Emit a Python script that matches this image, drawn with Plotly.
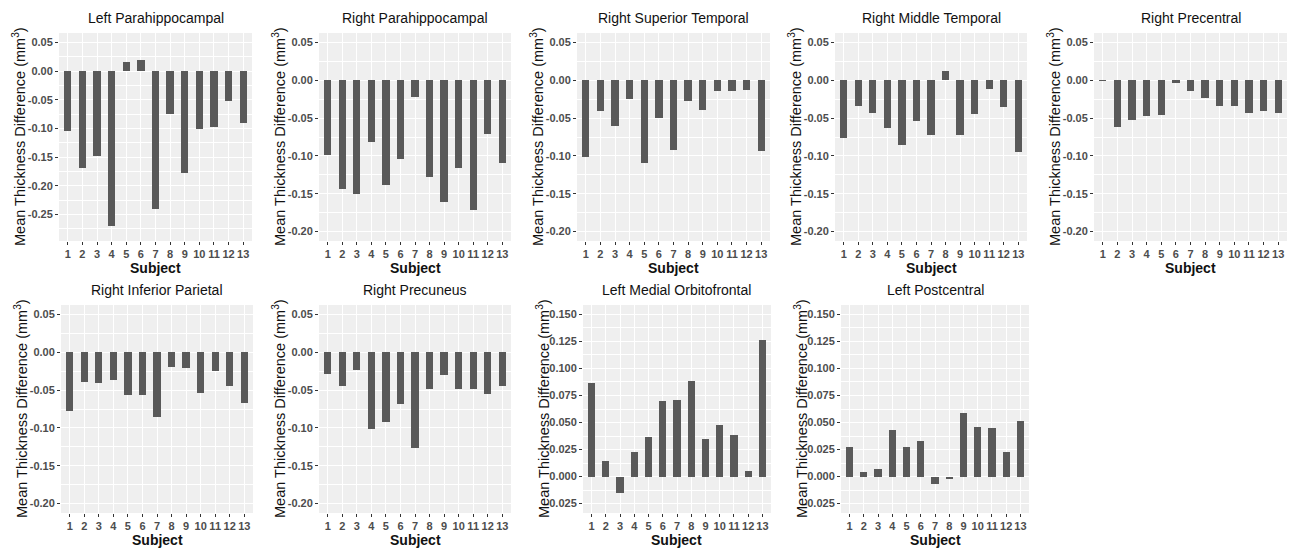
import math
import plotly.graph_objects as go

subjects = [str(i) for i in range(1, 14)]

regions = [
    "Left Parahippocampal", "Right Parahippocampal", "Right Superior Temporal",
    "Right Middle Temporal", "Right Precentral", "Right Inferior Parietal",
    "Right Precuneus", "Left Medial Orbitofrontal", "Left Postcentral",
]

left_parahippocampal = [-0.104, -0.169, -0.148, -0.270, 0.016, 0.020, -0.241, -0.075, -0.177, -0.101, -0.097, -0.052, -0.090]
right_parahippocampal = [-0.099, -0.144, -0.150, -0.082, -0.138, -0.104, -0.022, -0.128, -0.161, -0.116, -0.171, -0.071, -0.110]
right_superior_temporal = [-0.102, -0.041, -0.060, -0.025, -0.109, -0.050, -0.092, -0.027, -0.039, -0.014, -0.014, -0.013, -0.094]
right_middle_temporal = [-0.076, -0.034, -0.043, -0.063, -0.085, -0.054, -0.073, 0.012, -0.072, -0.045, -0.011, -0.035, -0.095]
right_precentral = [-0.0005, -0.062, -0.052, -0.047, -0.046, -0.003, -0.014, -0.024, -0.034, -0.034, -0.043, -0.040, -0.043]
right_inferior_parietal = [-0.078, -0.039, -0.041, -0.036, -0.056, -0.056, -0.085, -0.020, -0.021, -0.054, -0.025, -0.044, -0.067]
right_precuneus = [-0.029, -0.045, -0.024, -0.101, -0.092, -0.069, -0.127, -0.049, -0.030, -0.049, -0.049, -0.055, -0.044]
left_medial_orbitofrontal = [0.087, 0.014, -0.015, 0.023, 0.037, 0.070, 0.071, 0.088, 0.035, 0.048, 0.038, 0.005, 0.126]
left_postcentral = [0.027, 0.004, 0.007, 0.043, 0.027, 0.033, -0.007, -0.002, 0.059, 0.046, 0.045, 0.023, 0.051]

series = [left_parahippocampal, right_parahippocampal, right_superior_temporal,
          right_middle_temporal, right_precentral, right_inferior_parietal,
          right_precuneus, left_medial_orbitofrontal, left_postcentral]

# y-axis limits (before ggplot-style 5% expansion) and tick steps
y_limits = [(-0.28, 0.05)] + [(-0.20, 0.05)] * 6 + [(-0.025, 0.15)] * 2
y_steps = [0.05] * 7 + [0.025] * 2
y_decimals = [2] * 7 + [3] * 2

W, H = 1293, 548
# plot areas in pixels: (left, right, top, bottom)
boxes = [
    (59, 252, 33, 241), (319, 511, 33, 241), (577, 770, 33, 241),
    (835, 1027, 33, 241), (1094, 1287, 33, 241),
    (61, 253, 305, 513), (319, 511, 305, 513), (583, 771, 305, 513),
    (841, 1029, 305, 513),
]

fig = go.Figure()
tick_font = dict(family="Liberation Sans, Arial", size=11, color="#4D4D4D", weight="bold")
annots = []
for i, (name, vals) in enumerate(zip(regions, series)):
    k = "" if i == 0 else str(i + 1)
    fig.add_trace(go.Bar(x=subjects, y=vals, width=0.5, marker_color="#595959",
                         marker_line_width=0, xaxis="x" + k, yaxis="y" + k,
                         showlegend=False))
    l, r, t, b = boxes[i]
    lo, hi = y_limits[i]
    pad = (hi - lo) * 0.05
    step = y_steps[i]
    j0 = math.ceil(lo / step - 1e-9)
    j1 = math.floor(hi / step + 1e-9)
    tv = [round(j * step, 4) for j in range(j0, j1 + 1)]
    tt = [("-" if v < -1e-9 else "") + f"{abs(v):.{y_decimals[i]}f}" for v in tv]
    fig.update_layout({
        "xaxis" + k: dict(domain=[l / W, r / W], anchor="y" + k, type="category",
                          range=[-0.6, 12.6], showgrid=True, gridcolor="white",
                          gridwidth=1.1, ticks="outside", ticklen=3, tickwidth=1,
                          tickcolor="#333333", tickfont=tick_font, tickangle=0,
                          zeroline=False, showline=False, fixedrange=True),
        "yaxis" + k: dict(domain=[1 - b / H, 1 - t / H], anchor="x" + k,
                          range=[lo - pad, hi + pad], tickvals=tv, ticktext=tt,
                          showgrid=True, gridcolor="white", gridwidth=1.1,
                          minor=dict(dtick=step / 2, tick0=0, showgrid=True,
                                     gridcolor="white", gridwidth=0.6),
                          ticks="outside", ticklen=3, tickwidth=1,
                          tickcolor="#333333", tickfont=tick_font, zeroline=False,
                          showline=False, fixedrange=True),
    })
    cx = (l + r) / 2 / W
    annots.append(dict(text=name, x=cx, y=1 - (t - 15) / H, xref="paper", yref="paper",
                       xanchor="center", yanchor="middle", showarrow=False,
                       font=dict(family="Liberation Sans, Arial", size=14, color="#111111")))
    annots.append(dict(text="Subject", x=cx, y=1 - (b + 27) / H, xref="paper", yref="paper",
                       xanchor="center", yanchor="middle", showarrow=False,
                       font=dict(family="Liberation Sans, Arial", size=14, color="#111111",
                                 weight="bold")))
    annots.append(dict(text="Mean Thickness Difference (mm<sup>3</sup>)",
                       x=(l - 40) / W, y=1 - (t + b) / 2 / H, xref="paper", yref="paper",
                       xanchor="center", yanchor="middle", showarrow=False, textangle=-90,
                       font=dict(family="Liberation Sans, Arial", size=14.5, color="#111111")))

fig.update_layout(width=W, height=H, margin=dict(l=0, r=0, t=0, b=0),
                  paper_bgcolor="white", plot_bgcolor="#EFEFEF",
                  annotations=annots, bargap=0)
fig.write_html("out.html")
